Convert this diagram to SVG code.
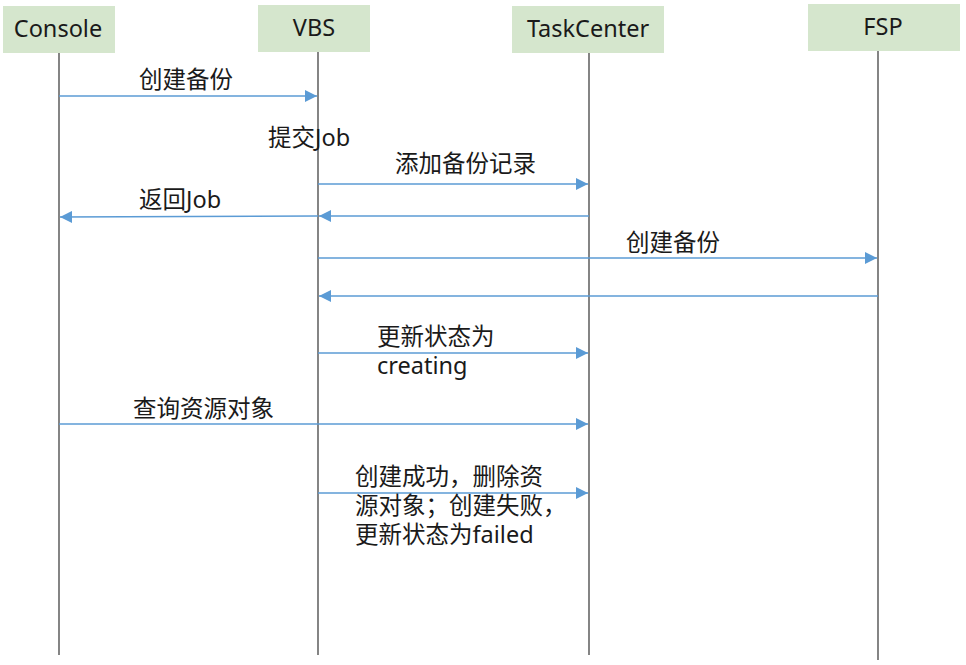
<svg xmlns="http://www.w3.org/2000/svg" width="966" height="665" viewBox="0 0 966 665">
<style>
.box{fill:#d5e6cd;}
.t{font-family:"Noto Sans","Noto Sans CJK SC",sans-serif;font-size:23.5px;fill:#1a1a1a;}
.c{text-anchor:middle;}
.life{stroke:#333;stroke-width:1.2;fill:none;}
.msg{stroke:#5b9bd5;stroke-width:1.3;fill:none;}
</style>
<defs>
<marker id="ah" viewBox="0 0 10 10" refX="10" refY="5" markerWidth="12" markerHeight="12" markerUnits="userSpaceOnUse" orient="auto">
<path d="M0,0 L10,5 L0,10 Z" fill="#5b9bd5"/>
</marker>
</defs>
<rect width="966" height="665" fill="#fff"/>
<g id="console">
<rect class="box" x="3" y="6" width="112" height="47"/>
<text class="t c" x="58" y="37">Console</text>
<line class="life" x1="59" y1="53" x2="59" y2="655"/>
</g>
<g id="vbs">
<rect class="box" x="258" y="5" width="112" height="47"/>
<text class="t c" x="314" y="36">VBS</text>
<line class="life" x1="318" y1="52" x2="318" y2="655"/>
</g>
<g id="taskcenter">
<rect class="box" x="512" y="6" width="152" height="47"/>
<text class="t c" x="588" y="37">TaskCenter</text>
<line class="life" x1="589" y1="53" x2="589" y2="655"/>
</g>
<g id="fsp">
<rect class="box" x="808" y="4" width="152" height="47"/>
<text class="t c" x="883" y="35">FSP</text>
<line class="life" x1="878" y1="51" x2="878" y2="660"/>
</g>
<g id="connectors">
<line class="msg" x1="59" y1="96" x2="317" y2="96" marker-end="url(#ah)"/>
<line class="msg" x1="318" y1="184" x2="588" y2="184" marker-end="url(#ah)"/>
<line class="msg" x1="589" y1="216" x2="319" y2="216" marker-end="url(#ah)"/>
<line class="msg" x1="318" y1="216" x2="60" y2="217" marker-end="url(#ah)"/>
<line class="msg" x1="318" y1="258" x2="877" y2="258" marker-end="url(#ah)"/>
<line class="msg" x1="878" y1="296" x2="319" y2="296" marker-end="url(#ah)"/>
<line class="msg" x1="318" y1="353" x2="588" y2="353" marker-end="url(#ah)"/>
<line class="msg" x1="59" y1="424" x2="588" y2="424" marker-end="url(#ah)"/>
<line class="msg" x1="318" y1="493" x2="588" y2="493" marker-end="url(#ah)"/>
</g>
<g id="labels">
<text class="t" x="139" y="88">创建备份</text>
<text class="t" x="268" y="146">提交Job</text>
<text class="t" x="395" y="172">添加备份记录</text>
<text class="t" x="139" y="208">返回Job</text>
<text class="t" x="626" y="251">创建备份</text>
<text class="t" x="377" y="345">更新状态为</text>
<text class="t" x="377" y="374">creating</text>
<text class="t" x="133" y="417">查询资源对象</text>
<text class="t" x="355" y="485">创建成功，删除资</text>
<text class="t" x="355" y="514">源对象；创建失败，</text>
<text class="t" x="355" y="543">更新状态为failed</text>
</g>
</svg>
